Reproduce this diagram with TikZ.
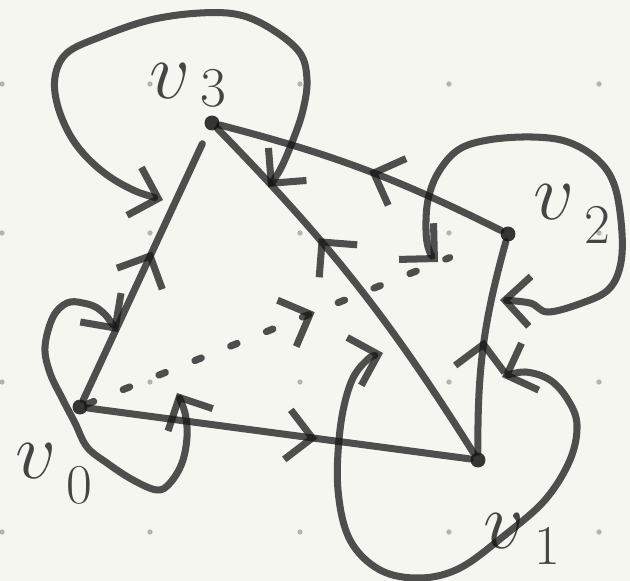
\RequirePackage{fix-cm}
\documentclass[tikz,border=0pt]{standalone}
\usetikzlibrary{arrows.meta,decorations.markings}
\definecolor{paper}{HTML}{F6F6F1}
\definecolor{ink}{HTML}{141414}
\definecolor{griddot}{HTML}{B4B4B0}
\newcommand{\vlab}[2]{$v$\kern0.12em\raisebox{-#2}{\fontsize{32}{32}\selectfont #1}}

\begin{document}
\begin{tikzpicture}[x=0.02cm, y=-0.02cm,
    >={Straight Barb[length=0.5cm, width=1cm]},
    pen/.style={draw=ink, draw opacity=0.74, line width=4pt, line cap=round, line join=round},
    vert/.style={circle, fill=ink, fill opacity=0.85, inner sep=0pt, minimum size=0.3cm},
    lbl/.style={text=ink, text opacity=0.78, font=\fontsize{46}{46}\selectfont},
    midarrow/.style={postaction={decorate, decoration={markings,
      mark=at position #1 with {\pgfsetdash{}{0pt}\arrow{>}}}}}]
        % paper and dot grid
        \useasboundingbox (0,0) rectangle (630,581);
        \fill[paper] (0,0) rectangle (630,581);
        \foreach \gx in {2,150,300,449,599} {
          \foreach \gy in {84,233,382,532}
            \fill[griddot] (\gx,\gy) circle[radius=1.5pt];
        }
        % vertices
        \node[vert] (v0) at (80,407) {};
        \node[vert] (v1) at (478,460) {};
        \node[vert] (v2) at (508,234) {};
        \node[vert] (v3) at (212,123) {};
        % edges
        \draw[pen, midarrow=0.55, shorten >=0.3cm] (v0) -- (v3);
        \draw[pen, midarrow=0.64] (v1) to[bend right=6] (v3);
        \draw[pen, midarrow=0.48] (v2) to[bend right=6] (v3);
        \draw[pen, midarrow=0.6] (v0) -- (v1);
        \draw[pen, midarrow=0.53] (v1) to[bend left=8] (v2);
        \draw[pen, dash pattern=on 4pt off 18pt, shorten >=1.1cm, midarrow=0.55] (v0) -- (v2);
        % loops round the vertices
        \draw[pen, <->] plot[smooth, tension=0.6] coordinates {(163,200) (127,187) (97,167) (73,140)
          (58,107) (55,77) (67,53) (100,37) (150,20) (200,13) (240,15) (273,30) (300,53) (307,80)
          (303,110) (293,140) (280,170) (268,187)};
        \draw[pen, <->] plot[smooth, tension=0.6] coordinates {(118,332) (100,310) (83,303) (67,303)
          (53,317) (45,347) (50,373) (62,398) (75,423) (87,447) (107,463) (133,480) (157,490)
          (170,483) (182,463) (187,437) (185,413) (177,393)};
        \draw[pen, <->] plot[smooth, tension=0.6] coordinates {(383,353) (365,362) (350,385) (340,430)
          (338,490) (350,540) (380,570) (420,578) (460,568) (505,535) (545,500) (570,460) (577,425)
          (568,400) (550,380) (525,372) (502,377)};
        \draw[pen, <->] plot[smooth, tension=0.6] coordinates {(438,262) (429,250) (426,230) (428,200)
          (438,173) (458,150) (488,140) (532,137) (568,142) (598,160) (615,187) (622,233) (620,267)
          (608,290) (582,303) (548,312) (530,303) (500,300)};
        % labels
        \node[lbl] (l3) at (188,86) {\vlab{3}{0.1em}};
        \node[lbl] (l2) at (572,214) {\vlab{2}{0.3em}};
        \node[lbl] (l0) at (54,474) {\vlab{0}{0.32em}};
        \node[lbl] (l1) at (522,539) {\vlab{1}{0.2em}};
      \end{tikzpicture}
\end{document}
